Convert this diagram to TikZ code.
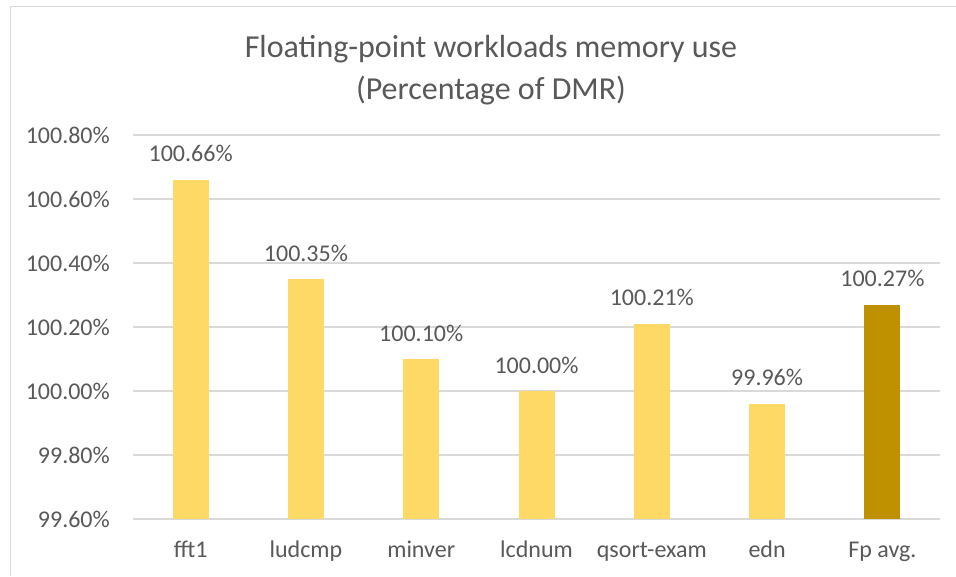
\documentclass[tikz,border=0pt]{standalone}
\usepackage{fontspec}
\setmainfont{Carlito}
\definecolor{txtgray}{HTML}{595959}
\definecolor{gridgray}{HTML}{D9D9D9}
\definecolor{barlight}{HTML}{FFD966}
\definecolor{bardark}{HTML}{BF9000}
\begin{document}
\begin{tikzpicture}[x=1pt,y=-1pt,
  lbl/.style={text=txtgray, font=\fontsize{24}{29}\selectfont, inner sep=0pt},
  ttl/.style={text=txtgray, font=\fontsize{32}{39}\selectfont, inner sep=0pt, anchor=base},
  gridline/.style={draw=gridgray, line width=1.2pt},
  frameline/.style={draw=gridgray, line width=1pt}]
\useasboundingbox (0,0) rectangle (956,576);
\fill[white] (0,0) rectangle (956,576);
% chart frame (only top and left edges fall inside the page)
\draw[frameline] (10,576) -- (10,6) -- (956,6);
% title
\node[ttl] (title1) at (491,57) {Floating-point workloads memory use};
\node[ttl] (title2) at (491,99) {(Percentage of DMR)};
% horizontal grid and value axis labels
\foreach \t [count=\k from 0] in {99.60,99.80,100.00,100.20,100.40,100.60,100.80}{
  \pgfmathsetmacro{\gy}{519-64*\k}
  \draw[gridline] (133,\gy) -- (940,\gy);
  \node[lbl, anchor=east] (ytick\k) at (110,\gy) {\t\%};
}
% bars, data labels and category labels
\foreach \v/\n/\c [count=\i from 0] in {100.66/fft1/barlight,100.35/ludcmp/barlight,100.10/minver/barlight,100.00/lcdnum/barlight,100.21/qsort-exam/barlight,99.96/edn/barlight,100.27/Fp avg./bardark}{
  \pgfmathsetmacro{\cx}{133+115.29*(\i+0.5)}
  \pgfmathsetmacro{\top}{519-(\v-99.6)*320}
  \fill[\c] (\cx-18,519) rectangle (\cx+18,\top);
  \node[lbl, anchor=base] (val\i) at (\cx,\top-18) {\v\%};
  \node[lbl, anchor=base] (cat\i) at (\cx,557) {\n};
}
\end{tikzpicture}
\end{document}
